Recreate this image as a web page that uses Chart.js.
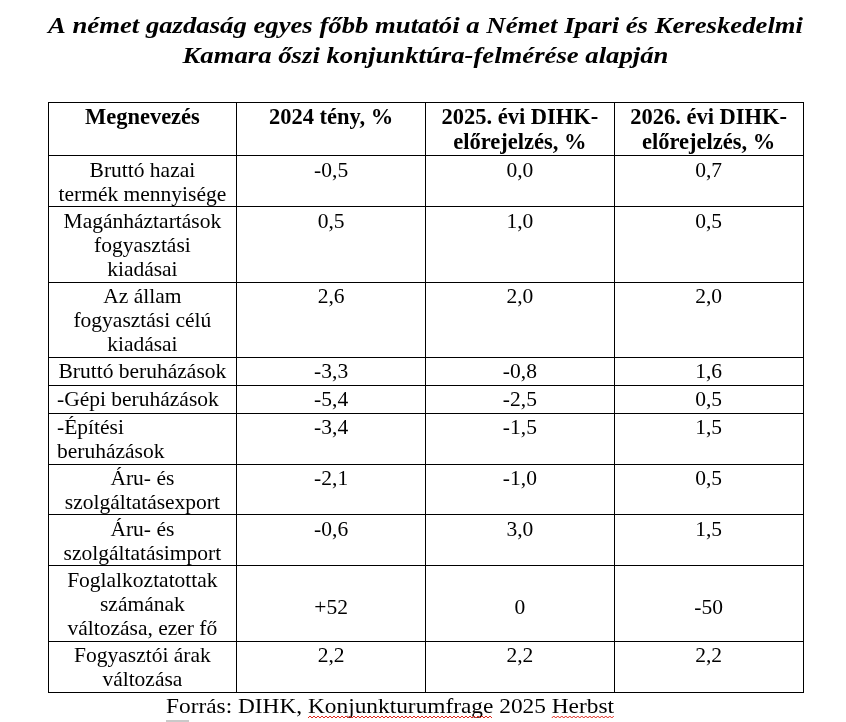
<!DOCTYPE html>
<html lang="hu">
<head>
<meta charset="utf-8">
<title>DIHK konjunktúra-felmérés</title>
<script src="https://cdn.jsdelivr.net/npm/chart.js@4/dist/chart.umd.min.js"></script>
<style>
  html, body { margin: 0; padding: 0; background: #fff; }
  #wrap { width: 846px; height: 722px; }
</style>
</head>
<body>
<div id="wrap"><canvas id="table"></canvas></div>
<script>
const titleLines = [
  "A német gazdaság egyes főbb mutatói a Német Ipari és Kereskedelmi",
  "Kamara őszi konjunktúra-felmérése alapján"
];
const columnHeaders = [
  ["Megnevezés"],
  ["2024 tény, %"],
  ["2025. évi DIHK-", "előrejelzés, %"],
  ["2026. évi DIHK-", "előrejelzés, %"]
];
const rowLabels = [
  ["Bruttó hazai", "termék mennyisége"],
  ["Magánháztartások", "fogyasztási", "kiadásai"],
  ["Az állam", "fogyasztási célú", "kiadásai"],
  ["Bruttó beruházások"],
  ["-Gépi beruházások"],
  ["-Építési", "beruházások"],
  ["Áru- és", "szolgáltatásexport"],
  ["Áru- és", "szolgáltatásimport"],
  ["Foglalkoztatottak", "számának", "változása, ezer fő"],
  ["Fogyasztói árak", "változása"]
];
const actual2024 = ["-0,5", "0,5", "2,6", "-3,3", "-5,4", "-3,4", "-2,1", "-0,6", "+52", "2,2"];
const forecast2025 = ["0,0", "1,0", "2,0", "-0,8", "-2,5", "-1,5", "-1,0", "3,0", "0", "2,2"];
const forecast2026 = ["0,7", "0,5", "2,0", "1,6", "0,5", "1,5", "0,5", "1,5", "-50", "2,2"];
const sourceText = "Forrás: DIHK, Konjunkturumfrage 2025 Herbst";
const flaggedWords = ["Konjunkturumfrage", "Herbst"];

const SERIF = '"Liberation Serif", "Times New Roman", serif';
const valueColumns = [actual2024, forecast2025, forecast2026];

// row height (in y units) depends on how many text lines the label has
const lineUnits = [0, 28, 51, 75.5];
const rowEdges = [0, 54];
rowLabels.forEach(lines => rowEdges.push(rowEdges[rowEdges.length - 1] + lineUnits[lines.length]));
const totalUnits = rowEdges[rowEdges.length - 1];
const middleValueRow = 8; // employment row: numbers sit in the vertical middle

// text drawn a bit wider than the font gives, like the scanned original
function stretchedText(ctx, text, x, y, sx) {
  ctx.save();
  ctx.translate(x, y);
  ctx.scale(sx, 1);
  ctx.fillText(text, 0, 0);
  ctx.restore();
}

const cellText = {
  id: "cellText",
  afterDraw(chart) {
    const { ctx, scales: { x, y } } = chart;
    const left = x.getPixelForValue(0), right = x.getPixelForValue(columnHeaders.length);
    ctx.save();
    ctx.fillStyle = "#000";
    ctx.textBaseline = "alphabetic";

    // title, spread across the table width
    ctx.font = "italic bold 22.5px " + SERIF;
    ctx.textAlign = "center";
    const tScale = (right - left) / ctx.measureText(titleLines[0]).width;
    titleLines.forEach((t, i) => stretchedText(ctx, t, (left + right) / 2, 33 + i * 30, tScale));

    // header row
    ctx.font = "bold 22.5px " + SERIF;
    const headTop = y.getPixelForValue(rowEdges[0]);
    columnHeaders.forEach((lines, c) => {
      const cx = x.getPixelForValue(c + 0.5);
      lines.forEach((t, i) => ctx.fillText(t, cx, headTop + 22 + i * 25));
    });

    // body rows
    ctx.font = "21.5px " + SERIF;
    rowLabels.forEach((lines, r) => {
      const top = y.getPixelForValue(rowEdges[r + 1]);
      const bottom = y.getPixelForValue(rowEdges[r + 2]);
      const indented = lines[0].startsWith("-");
      ctx.textAlign = indented ? "left" : "center";
      const lx = indented ? left + 9 : x.getPixelForValue(0.5);
      lines.forEach((t, i) => ctx.fillText(t, lx, top + 21 + i * 24));

      ctx.textAlign = "center";
      const vy = r === middleValueRow ? (top + bottom) / 2 + 11 : top + 21;
      valueColumns.forEach((col, c) => {
        ctx.fillText(col[r], x.getPixelForValue(c + 1.5), vy);
      });
    });

    // source line under the table
    const sx = 166, sy = 713;
    ctx.font = "21px " + SERIF;
    ctx.textAlign = "left";
    const sScale = 448 / ctx.measureText(sourceText).width;
    stretchedText(ctx, sourceText, sx, sy, sScale);
    ctx.strokeStyle = "#e0261b";
    ctx.lineWidth = 1;
    flaggedWords.forEach(w => {
      const at = sourceText.indexOf(w);
      const x0 = sx + sScale * ctx.measureText(sourceText.slice(0, at)).width;
      const x1 = x0 + sScale * ctx.measureText(w).width;
      ctx.beginPath();
      for (let px = x0, k = 0; px <= x1; px += 2, k++) {
        const py = sy + 3 + (k % 2 ? 0 : 2);
        if (k === 0) ctx.moveTo(px, py); else ctx.lineTo(px, py);
      }
      ctx.stroke();
    });
    ctx.fillStyle = "#c9c9c9";
    ctx.fillRect(sx, 720, 23, 2);
    ctx.restore();
  }
};

const gridStyle = { color: "#000", lineWidth: 1, drawTicks: false };

new Chart(document.getElementById("table"), {
  type: "scatter",
  data: { datasets: [] },
  options: {
    responsive: true,
    maintainAspectRatio: false,
    animation: false,
    layout: { padding: { left: 48, right: 43, top: 102, bottom: 30 } },
    plugins: {
      legend: { display: false },
      tooltip: { enabled: false },
      title: { display: false }
    },
    scales: {
      x: {
        type: "linear",
        min: 0,
        max: columnHeaders.length,
        ticks: { display: false, stepSize: 1 },
        grid: gridStyle,
        border: { display: true, color: "#000", width: 1 }
      },
      y: {
        type: "linear",
        reverse: true,
        min: 0,
        max: totalUnits,
        afterBuildTicks: scale => {
          scale.ticks = rowEdges.map(v => ({ value: v }));
        },
        ticks: { display: false },
        grid: gridStyle,
        border: { display: true, color: "#000", width: 1 }
      }
    }
  },
  plugins: [cellText]
});
</script>
</body>
</html>
